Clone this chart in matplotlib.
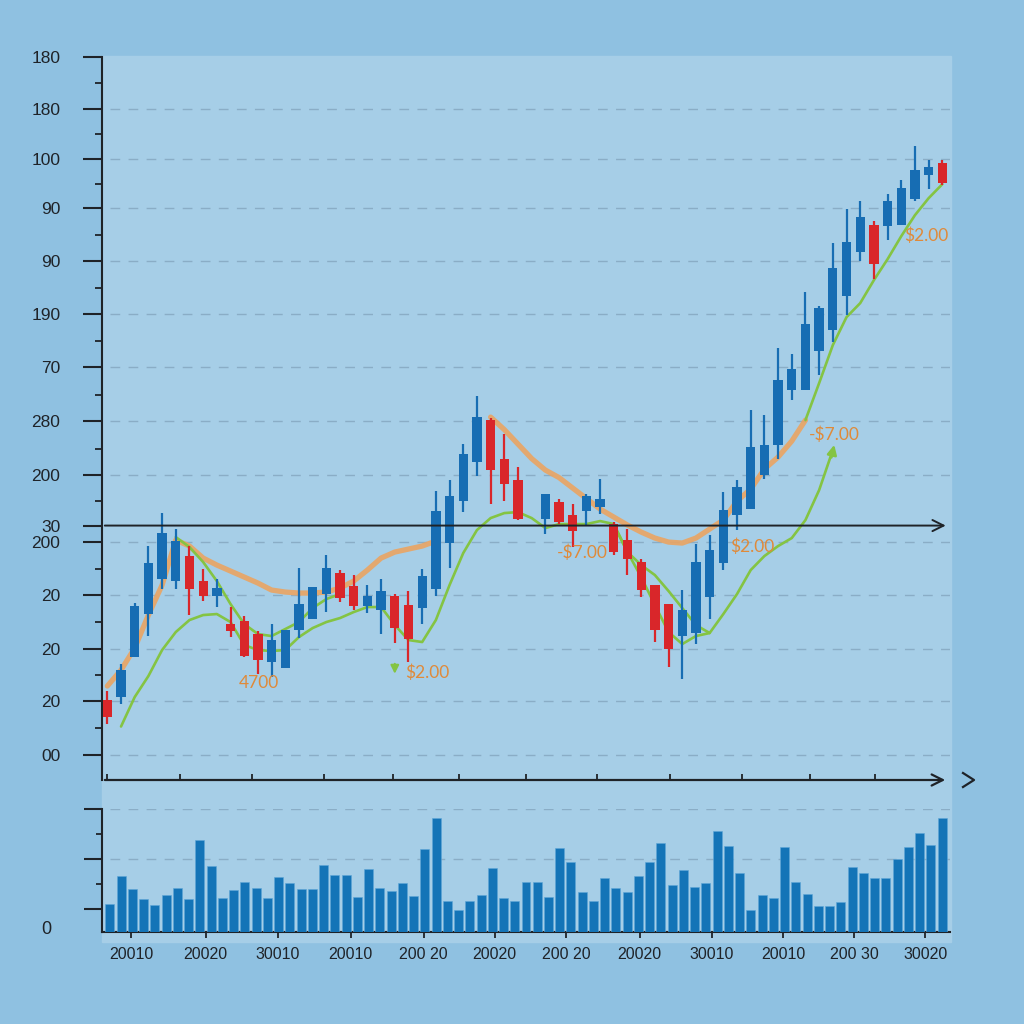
import matplotlib
matplotlib.use("Agg")
import matplotlib.pyplot as plt
import numpy as np
from matplotlib import font_manager
from matplotlib.patches import Rectangle
from matplotlib.lines import Line2D

names = {f.name for f in font_manager.fontManager.ttflist}
AX_FONT = "Liberation Sans Narrow" if "Liberation Sans Narrow" in names else "Liberation Sans"
ANN_FONT = "Lato" if "Lato" in names else "DejaVu Sans"
plt.rcParams["font.family"] = [AX_FONT, "DejaVu Sans"]

nan = np.nan
# ---------------- data (price units) ----------------
opens = [16.0, 16.7, 24.7, 33.3, 40.2, 39.9, 44.9, 39.9, 36.8, 31.2,
         31.8, 29.3, 23.7, 22.4, 30.1, 32.3, 37.3, 41.5, 38.8, 34.8,
         34.0, 36.9, 35.0, 34.5, 38.2, 47.5, 55.9, 63.7, 72.1, 64.2,
         60.0, nan, 52.3, 55.7, 53.0, 53.9, 54.7, 51.3, 48.0, 43.7,
         39.1, 35.2, 28.8, 29.5, 36.7, 43.5, 53.1, 54.3, 61.0, 67.0,
         78.0, 78.0, 85.9, 90.0, 96.9, 105.7, 111.0, 110.9, 111.1, 116.3,
         121.0, 123.5]
closes = [12.7, 22.0, 34.8, 43.5, 49.5, 47.9, 38.3, 36.8, 38.5, 29.9,
          24.9, 24.1, 28.0, 30.0, 35.3, 38.7, 42.5, 36.5, 34.9, 36.8,
          37.8, 30.5, 28.3, 40.9, 53.8, 56.8, 65.2, 72.7, 62.0, 59.3,
          52.3, nan, 57.2, 51.7, 49.8, 56.8, 56.2, 45.7, 44.3, 38.0,
          30.0, 26.3, 34.1, 43.7, 46.0, 54.0, 58.7, 66.7, 67.0, 80.1,
          82.3, 91.3, 94.5, 102.5, 107.7, 112.7, 103.3, 115.8, 118.5, 122.0,
          122.7, 119.5]
highs = [17.8, 23.3, 35.5, 46.9, 53.5, 50.3, 46.8, 42.3, 40.3, 34.7,
         32.9, 29.9, 31.3, 30.0, 42.5, 38.7, 45.1, 42.0, 41.1, 39.1,
         40.2, 37.3, 37.8, 42.3, 57.8, 60.0, 67.3, 76.8, 72.5, 69.2,
         62.7, nan, 57.2, 56.3, 55.2, 57.3, 60.3, 51.7, 50.3, 44.3,
         39.1, 35.2, 38.0, 47.3, 49.0, 57.7, 60.0, 74.0, 73.0, 86.5,
         85.3, 97.7, 94.9, 107.5, 114.2, 115.8, 111.9, 117.3, 120.1, 126.8,
         124.0, 124.1]
lows = [11.3, 15.3, 24.7, 28.9, 38.2, 38.3, 33.1, 35.8, 34.7, 28.7,
        24.7, 21.3, 20.7, 22.4, 28.5, 32.3, 33.7, 35.7, 34.0, 33.5,
        29.3, 27.5, 23.7, 31.3, 36.9, 42.5, 53.7, 60.8, 55.3, 55.9,
        52.0, nan, 49.2, 51.3, 46.7, 51.0, 53.3, 45.0, 41.0, 36.7,
        27.7, 22.7, 20.3, 27.3, 32.2, 42.0, 50.1, 54.3, 60.3, 64.3,
        76.0, 78.0, 81.0, 87.7, 93.0, 103.8, 100.3, 108.0, 111.1, 115.8,
        118.3, 119.0]

ma_orange = [18.8, 22.0, 26.4, 33.0, 39.0, 48.0, 46.8, 44.4, 43.0, 41.8,
             40.6, 39.4, 38.0, 37.6, 37.4, 37.4, 37.6, 38.4, 39.8, 42.0,
             44.4, 45.6, 46.2, 46.8, 47.8, nan, nan, nan, 72.6, 70.1,
             67.2, 64.3, 62.0, 60.5, 58.4, 56.3, 54.2, 52.6, 51.0, 49.6,
             48.4, 47.6, 47.4, 48.4, 50.2, 52.0, 55.8, 58.2, 62.2, 64.6,
             67.8, 72.0, nan, nan, nan, nan, nan, nan, nan, nan,
             nan, nan]
ma_green_fast = [nan, nan, nan, nan, nan, 48.6, 46.6, 43.6, 39.8, 35.2,
                 31.2, 29.2, 28.8, 30.2, 31.6, 34.4, 36.2, 37.2, nan, nan,
                 nan, nan, nan, nan, nan, nan, nan, nan, nan, nan,
                 nan, nan, nan, nan, nan, nan, nan, 51.0, 45.6, 40.6,
                 35.0, 29.6, 27.2, 28.8, 29.4, nan, nan, nan, nan, nan,
                 nan, 72.0, 79.4, 87.0, 92.6, 95.4, 100.0, 104.2, 108.8, 113.0,
                 116.4, 119.2]
ma_green_slow = [nan, 10.7, 16.6, 20.8, 26.0, 29.6, 32.0, 33.0, 33.2, 31.6,
                 27.0, 26.0, 25.8, 26.0, 28.6, 30.4, 31.6, 32.4, 33.6, 34.6,
                 34.6, 31.0, 28.0, 27.6, 32.0, 39.0, 45.4, 50.0, 52.4, 53.4,
                 53.6, 52.4, 50.4, 51.2, 51.2, 51.2, 51.8, 51.2, 45.6, 43.0,
                 41.0, 37.8, 34.4, 31.0, 29.4, 33.2, 37.2, 42.0, 44.8, 46.8,
                 48.4, 52.0, 58.0, 66.0, nan, nan, nan, nan, nan, nan,
                 nan, nan]

volume = [27.7, 56.0, 43.0, 32.7, 27.0, 37.3, 43.7, 33.0, 92.3, 66.0,
          34.3, 42.3, 50.0, 44.3, 33.7, 54.7, 49.0, 42.7, 42.7, 67.3,
          57.3, 57.3, 34.7, 62.7, 44.3, 41.0, 48.7, 36.3, 82.7, 113.7,
          31.3, 21.7, 30.7, 37.0, 64.0, 33.7, 31.0, 50.3, 50.3, 35.0,
          83.7, 70.0, 40.0, 31.0, 53.7, 44.3, 39.7, 56.3, 70.3, 88.7,
          46.7, 62.0, 45.3, 49.0, 101.0, 86.3, 59.3, 22.0, 36.7, 34.3,
          85.3, 50.0, 38.0, 26.3, 26.3, 29.7, 65.3, 59.0, 54.3, 53.7,
          72.7, 84.7, 99.0, 87.3, 113.7]

y_major = [144.7, 134.3, 124.2, 114.5, 103.8, 93.2, 82.6, 71.9, 61.1, 50.9,
           47.7, 37.0, 26.3, 15.8, 5.0]
y_labels = ["180", "180", "100", "90", "90", "190", "70", "280", "200", "30",
            "200", "20", "20", "20", "00"]
y_minor = [139.5, 129.3, 119.2, 109.1, 98.5, 87.8, 77.1, 66.3, 55.9, 42.2,
           31.7, 21.0, 10.5]
ref_level = 50.9
main_xticks = [0.0, 5.3, 10.6, 15.8, 20.9, 25.7, 30.6, 35.8, 41.1, 46.4, 51.3, 56.1]

vol_xticks = [1.9, 8.5, 14.9, 21.4, 27.9, 34.2, 40.6, 47.1, 53.5, 59.9, 66.2, 72.5]
vol_xlabels = ["20010", "20020", "30010", "20010", "200 20", "20020",
               "200 20", "20020", "30010", "20010", "200 30", "30020"]
vol_major = [23, 73, 123]
vol_minor = [48, 98]

annotations = [("4700", 11.1, 19.4), ("$2.00", 23.4, 21.4), ("-$7.00", 34.7, 45.4),
               ("$2.00", 47.1, 46.6), ("-$7.00", 53.1, 69.0), ("$2.00", 59.8, 108.8)]

# ---------------- style ----------------
BG_OUT = "#8fc1e1"
BG_IN = "#a6cee7"
BLUE = "#176db3"
RED = "#d9262a"
ORANGE = "#eaa462"
GREEN = "#84c443"
TXT_OR = "#df8a3a"
INK = "#1f2328"
GRID = "#8aadc6"

W = H = 1024.0
def fx(px): return px / W
def fy(py): return 1 - py / H

fig = plt.figure(figsize=(10.24, 10.24), dpi=100, facecolor=BG_OUT)
bg = Rectangle((fx(102), fy(942)), fx(951) - fx(102), fy(56) - fy(942),
               transform=fig.transFigure, color=BG_IN, zorder=-10)
fig.patches.append(bg)

# ---------------- main price axes ----------------
ax = fig.add_axes([fx(102), fy(780), fx(950) - fx(102), fy(56.7) - fy(780)])
ax.set_facecolor("none")
n = len(opens)
x = np.arange(n)
o = np.array(opens); c = np.array(closes); h = np.array(highs); l = np.array(lows)
valid = ~np.isnan(o)
up = (c >= o) & valid
dn = (c < o) & valid
ax.set_xlim(-0.39, 61.56)
ax.set_ylim(0, 144.66)

for yv in y_major:
    if yv in (144.7, ref_level):
        continue
    ax.axhline(yv, xmin=8 / 848, xmax=1, color=GRID, lw=1.0, ls=(0, (7, 6)), zorder=1)

ax.plot(x, ma_orange, color=ORANGE, lw=3.8, alpha=0.9, solid_capstyle="round", zorder=2)
ax.plot(x, ma_green_slow, color=GREEN, lw=1.9, solid_capstyle="round", zorder=2.1)
ax.plot(x, ma_green_fast, color=GREEN, lw=1.9, solid_capstyle="round", zorder=2.1)
ax.annotate("", xy=(53.15, 67.6), xytext=(52.85, 64.0),
            arrowprops=dict(arrowstyle="-|>", color=GREEN, lw=1.9, mutation_scale=14),
            zorder=2.2)

for mask, col in ((up, BLUE), (dn, RED)):
    ax.vlines(x[mask], l[mask], h[mask], color=col, lw=1.6, zorder=3)
    ax.bar(x[mask], np.abs(c[mask] - o[mask]), bottom=np.minimum(o[mask], c[mask]),
           width=0.68, color=col, zorder=3.1)

# reference horizontal line with arrow
ax.annotate("", xy=(61.45, ref_level), xytext=(-0.39, ref_level),
            arrowprops=dict(arrowstyle="->", color=INK, lw=1.4, mutation_scale=20),
            annotation_clip=False, zorder=4)

for txt, tx, ty in annotations:
    ax.text(tx, ty, txt, color=TXT_OR, fontsize=12.5, family=ANN_FONT,
            ha="center", va="center", zorder=5)
ax.annotate("", xy=(21.0, 20.7), xytext=(21.0, 23.8),
            arrowprops=dict(arrowstyle="-|>", color=GREEN, lw=1.5, mutation_scale=12),
            zorder=5)

for s in ("top", "right", "bottom"):
    ax.spines[s].set_visible(False)
ax.spines["left"].set_linewidth(1.5)
ax.spines["left"].set_color(INK)
ax.set_yticks(y_major)
ax.set_yticklabels(y_labels)
ax.set_yticks(y_minor, minor=True)
ax.tick_params(axis="y", which="major", length=14, width=1.5, color=INK,
               labelsize=12.5, labelcolor=INK, pad=16)
ax.tick_params(axis="y", which="minor", length=5, width=1.3, color=INK)
ax.set_xticks(main_xticks)
ax.tick_params(axis="x", which="major", direction="in", length=4, width=1.3,
               color=INK, labelbottom=False)

# bottom axis line with arrow and extra chevron
ax.annotate("", xy=((948 - 102) / 848, 0), xytext=(0, 0), xycoords="axes fraction",
            textcoords="axes fraction",
            arrowprops=dict(arrowstyle="->", color=INK, lw=1.6, mutation_scale=20),
            annotation_clip=False)
fig.add_artist(Line2D([fx(963), fx(974), fx(963)], [fy(773), fy(780), fy(787)],
                      transform=fig.transFigure, color=INK, lw=1.6))

# ---------------- volume axes ----------------
ax2 = fig.add_axes([fx(102), fy(932), fx(950) - fx(102), fy(809) - fy(932)])
ax2.set_facecolor("none")
xv = np.arange(len(volume))
ax2.set_xlim(-0.71, 74.71)
ax2.set_ylim(0, 123)
for yv in (73, 123):
    ax2.axhline(yv, xmin=8 / 848, color=GRID, lw=1.0, ls=(0, (7, 6)), zorder=1)
ax2.bar(xv, volume, width=0.8, color="#1474b7", edgecolor="#5ea7d8", linewidth=0.4,
        zorder=3)
for s in ("top", "right"):
    ax2.spines[s].set_visible(False)
for s in ("left", "bottom"):
    ax2.spines[s].set_linewidth(1.5)
    ax2.spines[s].set_color(INK)
ax2.set_yticks(vol_major)
ax2.set_yticklabels([])
ax2.set_yticks(vol_minor, minor=True)
ax2.tick_params(axis="y", which="major", length=13, width=1.5, color=INK)
ax2.tick_params(axis="y", which="minor", length=4, width=1.3, color=INK)
ax2.set_xticks(vol_xticks)
ax2.set_xticklabels(vol_xlabels)
ax2.tick_params(axis="x", length=4, width=1.3, color=INK, labelsize=11.5,
                labelcolor=INK, pad=7)
fig.text(fx(46), fy(929), "0", fontsize=13, color=INK, ha="center", va="center")

fig.savefig("out.png", dpi=100, facecolor=BG_OUT)
